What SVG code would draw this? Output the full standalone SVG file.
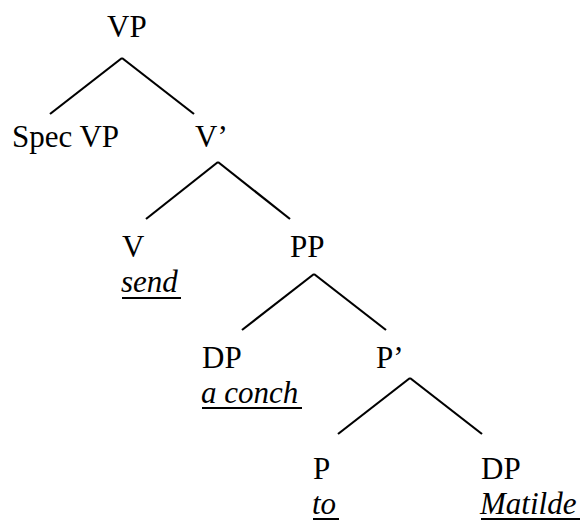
<svg xmlns="http://www.w3.org/2000/svg" width="586" height="521" viewBox="0 0 586 521">
  <rect width="586" height="521" fill="#fff"/>

  <!-- branches of the tree -->
  <g id="connectors" stroke="#000" stroke-width="2.2" fill="none">
    <line x1="122" y1="58" x2="50" y2="114"/>
    <line x1="122" y1="58" x2="194" y2="114"/>
    <line x1="218" y1="162" x2="146" y2="219"/>
    <line x1="218" y1="162" x2="290" y2="219"/>
    <line x1="314" y1="274" x2="242" y2="330"/>
    <line x1="314" y1="274" x2="386" y2="330"/>
    <line x1="410" y1="378" x2="338" y2="434"/>
    <line x1="410" y1="378" x2="482" y2="434"/>
  </g>

  <!-- category labels and underlined italic words -->
  <g id="nodes" font-family="Liberation Serif" font-size="31" fill="#000" stroke-width="2">
    <g id="vp"><text x="107" y="37">VP</text></g>
    <g id="spec-vp"><text x="12" y="147">Spec VP</text></g>
    <g id="v-bar"><text x="195" y="147">V&#8217;</text></g>
    <g id="v">
      <text x="122" y="257">V</text>
      <text x="121" y="292" font-style="italic">send</text>
      <line x1="122" y1="298" x2="181" y2="298" stroke="#000"/>
    </g>
    <g id="pp"><text x="290" y="257">PP</text></g>
    <g id="dp-object">
      <text x="202" y="368">DP</text>
      <text x="201" y="403" font-style="italic">a conch</text>
      <line x1="202" y1="408" x2="302" y2="408" stroke="#000"/>
    </g>
    <g id="p-bar"><text x="376" y="368">P&#8217;</text></g>
    <g id="p">
      <text x="313" y="479">P</text>
      <text x="312" y="514" font-style="italic">to</text>
      <line x1="313" y1="519" x2="339" y2="519" stroke="#000"/>
    </g>
    <g id="dp-goal">
      <text x="481" y="479">DP</text>
      <text x="480" y="514" font-style="italic">Matilde</text>
      <line x1="481" y1="519" x2="580" y2="519" stroke="#000"/>
    </g>
  </g>
</svg>
